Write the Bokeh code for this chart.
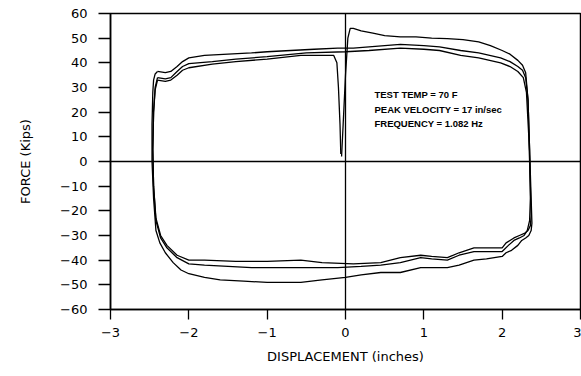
from bokeh.plotting import figure
from bokeh.models import Range1d, Span, FixedTicker
from bokeh.embed import file_html
from bokeh.resources import INLINE
from bokeh.core.properties import value

# ---- data ----
x_ticks = [-3, -2, -1, 0, 1, 2, 3]
x_tick_labels = ["\u22123", "\u22122", "\u22121", "0", "1", "2", "3"]
y_ticks = [-60, -50, -40, -30, -20, -10, 0, 10, 20, 30, 40, 50, 60]
y_tick_labels = ["\u221260", "\u221250", "\u221240", "\u221230", "\u221220", "\u221210",
                 "0", "10", "20", "30", "40", "50", "60"]

# first loading + first return
seg1_disp = [-0.05, -0.03, 0.0, 0.03, 0.06, 0.1, 0.2, 0.35, 0.5, 0.7, 0.9, 1.1, 1.3, 1.5, 1.7,
             1.85, 2.0, 2.1, 2.2, 2.26, 2.3, 2.33, 2.35, 2.37, 2.38, 2.37, 2.34, 2.3, 2.25, 2.2,
             2.12, 2.05, 2.0, 1.8, 1.64, 1.45, 1.3, 1.1, 0.96, 0.7, 0.45, 0.2, 0.0, -0.3, -0.57,
             -0.8, -1.0, -1.3, -1.6, -1.8, -2.0, -2.1, -2.2, -2.3, -2.37, -2.42, -2.45, -2.47,
             -2.47, -2.46, -2.45, -2.43, -2.4]
seg1_force = [2, 15, 35, 50, 54, 54, 53, 52, 51, 50.5, 50.5, 50, 49.8, 49.4, 48.5,
              47, 45, 43.5, 41, 39, 36, 25, 5, -15, -25, -28, -30, -31, -32, -34,
              -36, -37, -38.5, -39.5, -40, -42, -43, -43, -43, -45, -45, -46, -47, -48, -49,
              -49, -49, -48.5, -48, -47, -45.5, -44, -41, -37, -33, -28, -15, 0,
              15, 28, 33, 35.5, 36.5]

# second cycle
seg2_disp = [-2.4, -2.3, -2.23, -2.15, -2.08, -2.0, -1.8, -1.5, -1.2, -1.0, -0.7, -0.4, -0.1,
             0.1, 0.3, 0.5, 0.7, 1.0, 1.2, 1.47, 1.7, 1.98, 2.1, 2.2, 2.26, 2.3, 2.33, 2.35,
             2.36, 2.35, 2.32, 2.28, 2.22, 2.15, 2.08, 2.0, 1.8, 1.64, 1.45, 1.3, 1.1, 0.96,
             0.7, 0.45, 0.2, -0.1, -0.57, -0.9, -1.2, -1.5, -1.8, -2.0, -2.15, -2.28, -2.36,
             -2.42, -2.45, -2.46, -2.45, -2.43, -2.4]
seg2_force = [36.5, 36, 36.5, 38.5, 40.5, 42, 43, 43.5, 44, 44.5, 45, 45.5, 46,
              46, 46.5, 47, 47.5, 47, 46.5, 45, 44, 42, 40.5, 38.5, 37, 34, 25, 5,
              -15, -24, -28, -30, -31, -32, -34, -36.5, -36.5, -36.5, -38, -40, -39.5, -39,
              -41, -42, -42.5, -43, -43, -43, -43, -42.5, -42, -41.5, -39, -35, -31,
              -24, -10, 5, 20, 30, 34]

# third cycle
seg3_disp = [-2.4, -2.3, -2.23, -2.15, -2.08, -2.0, -1.7, -1.4, -1.0, -0.5, 0.0, 0.3, 0.7,
             1.0, 1.2, 1.47, 1.7, 1.98, 2.1, 2.2, 2.27, 2.31, 2.34, 2.36, 2.37, 2.36, 2.33,
             2.29, 2.22, 2.15, 2.05, 2.0, 1.8, 1.64, 1.45, 1.3, 1.1, 0.96, 0.7, 0.45, 0.1,
             -0.3, -0.57, -1.0, -1.4, -1.8, -2.0, -2.15, -2.28, -2.36, -2.42, -2.45, -2.46,
             -2.45, -2.43, -2.4]
seg3_force = [34, 33.5, 34, 36.5, 38.5, 39.7, 40.5, 41.5, 42.5, 44, 44.5, 45, 46,
              45.5, 45, 43, 42, 40, 38.5, 36.5, 34, 28, 10, -10, -22, -26, -28,
              -29, -30, -31, -33, -35, -35, -35, -37, -39, -38.5, -38, -39, -41, -41.5,
              -41, -40, -40.5, -40.5, -40, -40, -38, -34, -30, -23, -10, 5,
              20, 29, 33]

# final partial half-cycle back to zero
seg4_disp = [-2.4, -2.3, -2.23, -2.15, -2.08, -2.0, -1.7, -1.4, -1.0, -0.57, -0.3, -0.15,
             -0.11, -0.09, -0.07, -0.06]
seg4_force = [33, 32.5, 33, 35, 37, 38, 39.5, 40.5, 41.5, 43, 43, 43,
              40, 30, 15, 3]

note_lines = ["TEST TEMP = 70 F", "PEAK VELOCITY = 17 in/sec", "FREQUENCY = 1.082 Hz"]
note_x = [0.37, 0.37, 0.37]
note_y = [27.0, 21.2, 15.6]

# ---- figure ----
p = figure(width=581, height=376, output_backend="svg", toolbar_location=None,
           x_range=Range1d(-3, 3), y_range=Range1d(-60, 60),
           min_border_left=110, min_border_right=1, min_border_top=13,
           min_border_bottom=67, background_fill_color="white",
           border_fill_color="white")

p.grid.visible = False
p.outline_line_color = "black"
p.outline_line_width = 1.5
p.outline_line_alpha = 1.0

tick_font = "DejaVu Sans"
for ax in (p.xaxis[0], p.yaxis[0]):
    ax.axis_line_color = "black"
    ax.axis_line_width = 1.5
    ax.major_tick_line_color = "black"
    ax.major_tick_line_width = 1.3
    ax.major_tick_in = 0
    ax.minor_tick_line_color = None
    ax.major_label_text_font = tick_font
    ax.major_label_text_font_size = "13px"
    ax.major_label_text_color = "black"
    ax.axis_label_text_font = tick_font
    ax.axis_label_text_font_size = "13px"
    ax.axis_label_text_font_style = "normal"
    ax.axis_label_text_color = "black"

p.xaxis.ticker = FixedTicker(ticks=x_ticks)
p.xaxis.major_label_overrides = dict(zip(x_ticks, x_tick_labels))
p.xaxis.major_tick_out = 10
p.xaxis.major_label_standoff = 8
p.xaxis.axis_label = "DISPLACEMENT (inches)"
p.xaxis.axis_label_standoff = 9

p.yaxis.ticker = FixedTicker(ticks=y_ticks)
p.yaxis.major_label_overrides = dict(zip(y_ticks, y_tick_labels))
p.yaxis.major_tick_out = 12
p.yaxis.major_label_standoff = 11
p.yaxis.axis_label = "FORCE (Kips)"
p.yaxis.axis_label_standoff = 24

p.add_layout(Span(location=0, dimension="height", line_color="black", line_width=1.3))
p.add_layout(Span(location=0, dimension="width", line_color="black", line_width=1.3))

for xs, fs in ((seg1_disp, seg1_force), (seg2_disp, seg2_force),
               (seg3_disp, seg3_force), (seg4_disp, seg4_force)):
    p.line(xs, fs, line_color="black", line_width=1.3)

p.text(x=note_x, y=note_y, text=note_lines, text_font=value("Liberation Sans"),
       text_font_style="bold", text_font_size="9.5px", text_color="black",
       text_baseline="middle", text_align="left")

open("out.html", "w").write(file_html(p, INLINE))
